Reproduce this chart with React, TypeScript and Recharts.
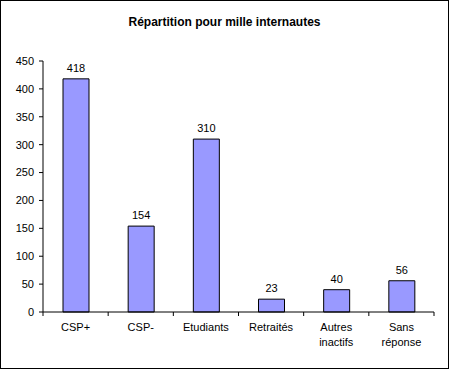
import { Bar, BarChart, LabelList, XAxis, YAxis } from "recharts";

const categories = ["CSP+", "CSP-", "Etudiants", "Retraités", "Autres inactifs", "Sans réponse"];
const values = [418, 154, 310, 23, 40, 56];
const yTicks = [0, 50, 100, 150, 200, 250, 300, 350, 400, 450];

const data = categories.map((name, i) => ({ name, value: values[i] }));

const W = 449;
const H = 369;
const LEFT = 43;
const RIGHT = 15;
const BAND = (W - LEFT - RIGHT) / categories.length;

const XTick = (props: any) => {
  const { x, y, payload, index } = props;
  const words = String(payload.value).split(" ");
  const left = x - BAND / 2;
  return (
    <g>
      <line x1={left} x2={left} y1={y - 8} y2={y - 4} stroke="#000" />
      {index === categories.length - 1 && (
        <line x1={x + BAND / 2} x2={x + BAND / 2} y1={y - 8} y2={y - 4} stroke="#000" />
      )}
      {words.map((w, i) => (
        <text
          key={i}
          x={x}
          y={y + 11 + i * 15}
          textAnchor="middle"
          fontSize={11}
          fill="#000"
          fontFamily="Liberation Sans, Arial, sans-serif"
        >
          {w}
        </text>
      ))}
    </g>
  );
};

const App = () => {
  return (
    <div style={{ position: "absolute", left: 0, top: 0, width: W, height: H }}>
      <BarChart
        width={W}
        height={H}
        data={data}
        margin={{ top: 61, right: RIGHT, left: 0, bottom: 0 }}
        style={{ fontFamily: "Liberation Sans, Arial, sans-serif" }}
      >
        <rect x={0.5} y={0.5} width={W - 1} height={H - 1} fill="#fff" stroke="#000" />
        <text
          x={W / 2}
          y={26}
          textAnchor="middle"
          fontSize={12}
          fontWeight="bold"
          fill="#000"
        >
          Répartition pour mille internautes
        </text>
        <XAxis
          dataKey="name"
          interval={0}
          height={57}
          axisLine={{ stroke: "#000" }}
          tickLine={false}
          tick={<XTick />}
        />
        <YAxis
          width={LEFT}
          domain={[0, 450]}
          ticks={yTicks}
          interval={0}
          axisLine={{ stroke: "#000" }}
          tickLine={{ stroke: "#000" }}
          tickSize={4}
          tickMargin={5}
          tick={{ fill: "#000", fontSize: 11 }}
        />
        <Bar
          dataKey="value"
          fill="#9999FF"
          stroke="#000"
          strokeWidth={1}
          barSize={26}
          isAnimationActive={false}
        >
          <LabelList dataKey="value" position="top" offset={7} fill="#000" fontSize={11} />
        </Bar>
      </BarChart>
    </div>
  );
};

export default App;
